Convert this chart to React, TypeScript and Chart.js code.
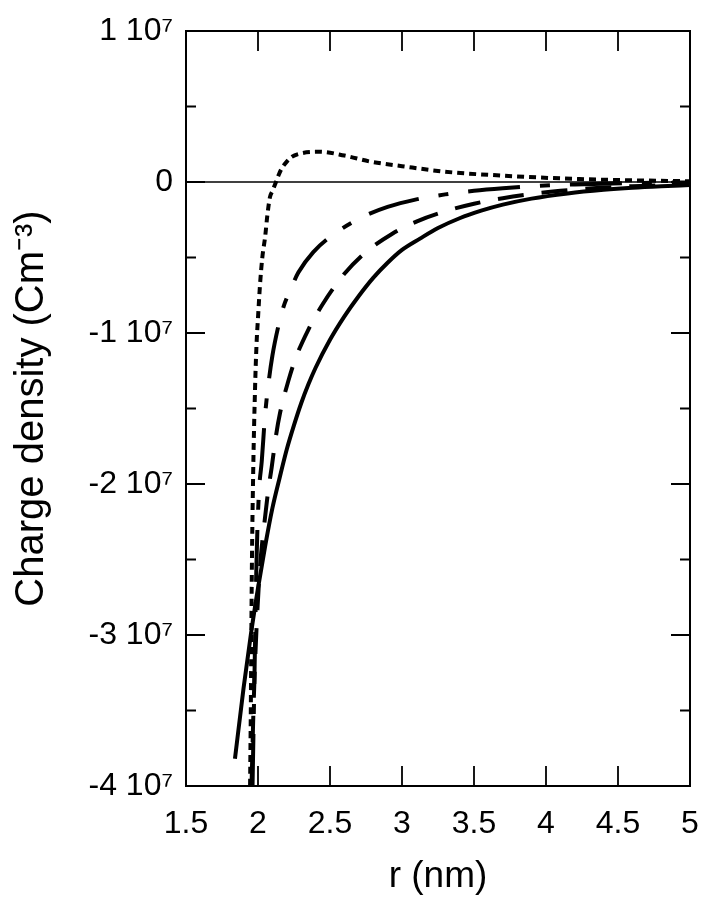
import React, { useEffect, useRef } from 'react';
import { Chart, registerables } from 'chart.js';

Chart.register(...registerables);

const X_TICKS = [1.5, 2, 2.5, 3, 3.5, 4, 4.5, 5];
const X_LABELS = ['1.5', '2', '2.5', '3', '3.5', '4', '4.5', '5'];
const Y_MAJOR = [1e7, 0, -1e7, -2e7, -3e7, -4e7];
const Y_LABELS = ['1 10⁷', '0', '-1 10⁷', '-2 10⁷', '-3 10⁷', '-4 10⁷'];
const Y_MINOR = [5e6, -5e6, -1.5e7, -2.5e7, -3.5e7];

const solidX = [1.84, 1.9, 1.95, 2.0, 2.05, 2.1, 2.15, 2.2, 2.25, 2.3, 2.35, 2.4, 2.5, 2.6, 2.7, 2.8, 2.9, 3.0, 3.125, 3.25, 3.4, 3.55, 3.7, 3.9, 4.15, 4.4, 4.6, 4.8, 5.0];
const solidY = [-3.82e7, -3.35e7, -3.0e7, -2.69e7, -2.41e7, -2.16e7, -1.96e7, -1.77e7, -1.61e7, -1.465e7, -1.34e7, -1.23e7, -1.045e7, -8.9e6, -7.55e6, -6.35e6, -5.35e6, -4.5e6, -3.75e6, -3.05e6, -2.4e6, -1.9e6, -1.5e6, -1.1e6, -0.76e6, -0.52e6, -0.38e6, -0.28e6, -0.2e6];

const dashDotX = [1.962, 1.975, 1.99, 2.007, 2.026, 2.049, 2.072, 2.1, 2.14, 2.176, 2.234, 2.28, 2.384, 2.55, 2.73, 2.9, 3.1, 3.3, 3.5, 3.7, 3.9, 4.2, 4.6, 5.0];
const dashDotY = [-4e7, -3.3e7, -2.5e7, -2.05e7, -1.85e7, -1.545e7, -1.34e7, -1.15e7, -9.6e6, -8.3e6, -6.95e6, -6.0e6, -4.64e6, -3.3e6, -2.3e6, -1.65e6, -1.15e6, -0.82e6, -0.58e6, -0.41e6, -0.28e6, -0.16e6, -0.07e6, -0.03e6];

const dashedX = [1.955, 1.97, 1.99, 2.014, 2.049, 2.07, 2.095, 2.125, 2.153, 2.21, 2.26, 2.35, 2.45, 2.6, 2.75, 2.93, 3.1, 3.3, 3.5, 3.7, 3.9, 4.1, 4.35, 4.6, 5.0];
const dashedY = [-4e7, -3.45e7, -2.95e7, -2.55e7, -2.22e7, -2.05e7, -1.89e7, -1.68e7, -1.53e7, -1.32e7, -1.17e7, -9.77e6, -8.08e6, -6.08e6, -4.64e6, -3.44e6, -2.62e6, -1.94e6, -1.44e6, -1.07e6, -0.79e6, -0.585e6, -0.4e6, -0.28e6, -0.15e6];

const dottedX = [1.945, 1.95, 1.957, 1.967, 1.98, 1.99, 2.0, 2.014, 2.03, 2.05, 2.065, 2.083, 2.1, 2.125, 2.145, 2.165, 2.2, 2.234, 2.3, 2.43, 2.6, 2.78, 3.0, 3.3, 3.7, 4.1, 4.5, 5.0];
const dottedY = [-4e7, -3.5e7, -2.6e7, -1.9e7, -1.35e7, -1.07e7, -9.0e6, -6.8e6, -5.0e6, -3.6e6, -2.2e6, -1.0e6, -0.6e6, 0, 0.5e6, 0.9e6, 1.35e6, 1.66e6, 1.9e6, 2.0e6, 1.75e6, 1.35e6, 1.05e6, 0.68e6, 0.42e6, 0.24e6, 0.13e6, 0.05e6];

const FONT = "'Liberation Sans', Arial, Helvetica, sans-serif";

const toPts = (xs: number[], ys: number[]) => xs.map((x, i) => ({ x, y: ys[i] }));

const framePlugin = {
  id: 'frameTicks',
  beforeDatasetsDraw(chart: any) {
    const { ctx, chartArea, scales } = chart;
    const y0 = scales.y.getPixelForValue(0);
    ctx.save();
    ctx.strokeStyle = '#000';
    ctx.lineWidth = 1.5;
    ctx.beginPath();
    ctx.moveTo(chartArea.left, y0);
    ctx.lineTo(chartArea.right, y0);
    ctx.stroke();
    ctx.restore();
  },
  afterDatasetsDraw(chart: any) {
    const { ctx, chartArea, scales } = chart;
    const { left, right, top, bottom } = chartArea;
    ctx.save();
    ctx.strokeStyle = '#000';
    ctx.lineWidth = 2;
    ctx.strokeRect(left, top, right - left, bottom - top);
    ctx.lineWidth = 1.8;
    ctx.beginPath();
    X_TICKS.forEach((v) => {
      const px = scales.x.getPixelForValue(v);
      if (px <= left + 1 || px >= right - 1) return;
      ctx.moveTo(px, bottom);
      ctx.lineTo(px, bottom - 20);
      ctx.moveTo(px, top);
      ctx.lineTo(px, top + 20);
    });
    Y_MAJOR.forEach((v) => {
      const py = scales.y.getPixelForValue(v);
      if (py <= top + 1 || py >= bottom - 1) return;
      ctx.moveTo(left, py);
      ctx.lineTo(left + 19, py);
      ctx.moveTo(right, py);
      ctx.lineTo(right - 19, py);
    });
    Y_MINOR.forEach((v) => {
      const py = scales.y.getPixelForValue(v);
      ctx.moveTo(left, py);
      ctx.lineTo(left + 10, py);
      ctx.moveTo(right, py);
      ctx.lineTo(right - 10, py);
    });
    ctx.stroke();
    ctx.restore();
  },
};

export default function App() {
  const ref = useRef<HTMLCanvasElement | null>(null);
  useEffect(() => {
    document.body.style.margin = '0';
    const canvas = ref.current;
    if (!canvas) return;
    const line = (data: any, dash: number[], width: number) => ({
      data,
      borderColor: '#000',
      borderWidth: width,
      borderDash: dash,
      borderCapStyle: 'butt',
      pointRadius: 0,
      fill: false,
      cubicInterpolationMode: 'monotone',
    });
    const chart = new Chart(canvas, {
      type: 'line',
      data: {
        datasets: [
          line(toPts(solidX, solidY), [], 4),
          line(toPts(dashDotX, dashDotY), [52, 20, 10, 20], 4),
          line(toPts(dashedX, dashedY), [26, 18], 4),
          line(toPts(dottedX, dottedY), [7, 5], 4),
        ] as any,
      },
      options: {
        animation: false,
        responsive: false,
        devicePixelRatio: 1,
        layout: { padding: { top: 31, right: 13, left: 0, bottom: 0 } },
        plugins: { legend: { display: false }, tooltip: { enabled: false } },
        scales: {
          x: {
            type: 'linear',
            min: 1.5,
            max: 5,
            afterBuildTicks: (s: any) => {
              s.ticks = X_TICKS.map((v) => ({ value: v }));
            },
            afterFit: (s: any) => {
              s.height = 113;
              s.paddingLeft = 0;
              s.paddingRight = 0;
            },
            grid: { display: false, drawTicks: false },
            border: { display: false },
            ticks: {
              autoSkip: false,
              maxRotation: 0,
              padding: 19,
              color: '#000',
              font: { size: 32, family: FONT },
              callback: (v: any) => {
                const i = X_TICKS.indexOf(Number(v));
                return i >= 0 ? X_LABELS[i] : '';
              },
            },
            title: {
              display: true,
              text: 'r (nm)',
              color: '#000',
              font: { size: 37, family: FONT },
              padding: { top: 0, bottom: 0 },
            },
          },
          y: {
            type: 'linear',
            min: -4e7,
            max: 1e7,
            afterBuildTicks: (s: any) => {
              s.ticks = Y_MAJOR.map((v) => ({ value: v }));
            },
            afterFit: (s: any) => {
              s.width = 186;
              s.paddingTop = 0;
              s.paddingBottom = 0;
            },
            grid: { display: false, drawTicks: false },
            border: { display: false },
            ticks: {
              autoSkip: false,
              padding: 13,
              color: '#000',
              font: { size: 32, family: FONT },
              callback: (v: any) => {
                const i = Y_MAJOR.indexOf(Number(v));
                return i >= 0 ? Y_LABELS[i] : '';
              },
            },
            title: {
              display: true,
              text: 'Charge density (Cm⁻³)',
              color: '#000',
              font: { size: 40, family: FONT },
              padding: { top: 8, bottom: 0 },
            },
          },
        },
      },
      plugins: [framePlugin],
    } as any);
    return () => chart.destroy();
  }, []);
  return (
    <div style={{ width: 703, height: 899 }}>
      <canvas ref={ref} width={703} height={899} style={{ display: 'block' }} />
    </div>
  );
}
